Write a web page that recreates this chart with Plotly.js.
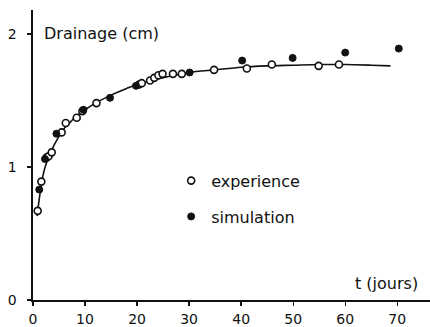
<!DOCTYPE html>
<html>
<head>
<meta charset="utf-8">
<script src="https://cdn.plot.ly/plotly-3.0.1.min.js"></script>
<style>html,body{margin:0;padding:0;background:#fff;}#chart{width:430px;height:327px;}</style>
</head>
<body>
<div id="chart"></div>
<script>
// Experience (open circles)
const expT = [0.9, 1.6, 2.6, 3.0, 3.6, 5.5, 6.3, 8.4, 9.5, 12.2, 20.4, 20.9, 22.5, 23.3, 24.1, 24.9, 26.9, 28.6, 34.8, 41.1, 45.9, 54.9, 58.8];
const expD = [0.67, 0.89, 1.07, 1.08, 1.11, 1.26, 1.33, 1.37, 1.42, 1.48, 1.62, 1.63, 1.65, 1.67, 1.69, 1.70, 1.70, 1.70, 1.73, 1.74, 1.77, 1.76, 1.77];
// Simulation (filled circles)
const simT = [1.2, 2.3, 4.5, 9.7, 14.8, 19.8, 30.1, 40.2, 49.9, 60.0, 70.3];
const simD = [0.83, 1.06, 1.25, 1.43, 1.52, 1.61, 1.71, 1.80, 1.82, 1.86, 1.89];
// Fitted curve
const curveT = [0.8, 1, 1.5, 2, 2.5, 3, 4, 5, 6, 7, 8, 10, 12, 15, 18, 20, 25, 30, 35, 40, 45, 50, 55, 60, 65, 68.7];
const curveD = [0.63, 0.70, 0.84, 0.95, 1.02, 1.07, 1.16, 1.23, 1.29, 1.33, 1.37, 1.43, 1.48, 1.54, 1.59, 1.62, 1.67, 1.71, 1.73, 1.75, 1.76, 1.765, 1.77, 1.77, 1.765, 1.76];
const xTicks = [0, 10, 20, 30, 40, 50, 60, 70];
const yTicks = [0, 1, 2];

const FONT = 'DejaVu Sans, sans-serif';

const traces = [
  {x: curveT, y: curveD, mode: 'lines', line: {color: '#111', width: 1.6, shape: 'spline', smoothing: 0.8}, showlegend: false, hoverinfo: 'skip'},
  {x: expT, y: expD, mode: 'markers', name: 'experience', legendgroup: 'a',
   marker: {symbol: 'circle', size: 7, color: '#fff', line: {color: '#111', width: 1.6}}},
  {x: simT, y: simD, mode: 'markers', name: 'simulation', legendgroup: 'b',
   marker: {symbol: 'circle', size: 7, color: '#111', line: {color: '#111', width: 1}}}
];

const layout = {
  width: 430, height: 327,
  margin: {l: 33, r: 0, t: 10, b: 27},
  paper_bgcolor: '#fff', plot_bgcolor: '#fff',
  font: {family: FONT, size: 14, color: '#111'},
  xaxis: {range: [0, 76.3], tickvals: xTicks, ticktext: xTicks.map(String), ticks: 'outside', ticklen: 4, tickwidth: 1.3,
          tickcolor: '#111', showline: true, linecolor: '#111', linewidth: 1.6, showgrid: false, zeroline: false,
          ticklabelstandoff: 2, fixedrange: true},
  yaxis: {range: [0, 2.18], tickvals: yTicks, ticktext: yTicks.map(String), ticks: 'outside', ticklen: 4, tickwidth: 1.3,
          tickcolor: '#111', showline: true, linecolor: '#111', linewidth: 1.6, showgrid: false, zeroline: false,
          ticklabelstandoff: 8, fixedrange: true},
  showlegend: true,
  legend: {x: 0.348, y: 0.47, xanchor: 'left', yanchor: 'top', bgcolor: 'rgba(0,0,0,0)',
           font: {family: FONT, size: 16, color: '#111'}, traceorder: 'grouped', tracegroupgap: 12},
  annotations: [
    {text: 'Drainage (cm)', xref: 'paper', yref: 'paper', x: 0.022, y: 0.92, xanchor: 'left', yanchor: 'middle',
     showarrow: false, font: {family: FONT, size: 16, color: '#111'}},
    {text: 't (jours)', xref: 'paper', yref: 'paper', x: 0.975, y: 0.058, xanchor: 'right', yanchor: 'middle',
     showarrow: false, font: {family: FONT, size: 16, color: '#111'}}
  ]
};

Plotly.newPlot('chart', traces, layout, {displayModeBar: false, staticPlot: true});
</script>
</body>
</html>
